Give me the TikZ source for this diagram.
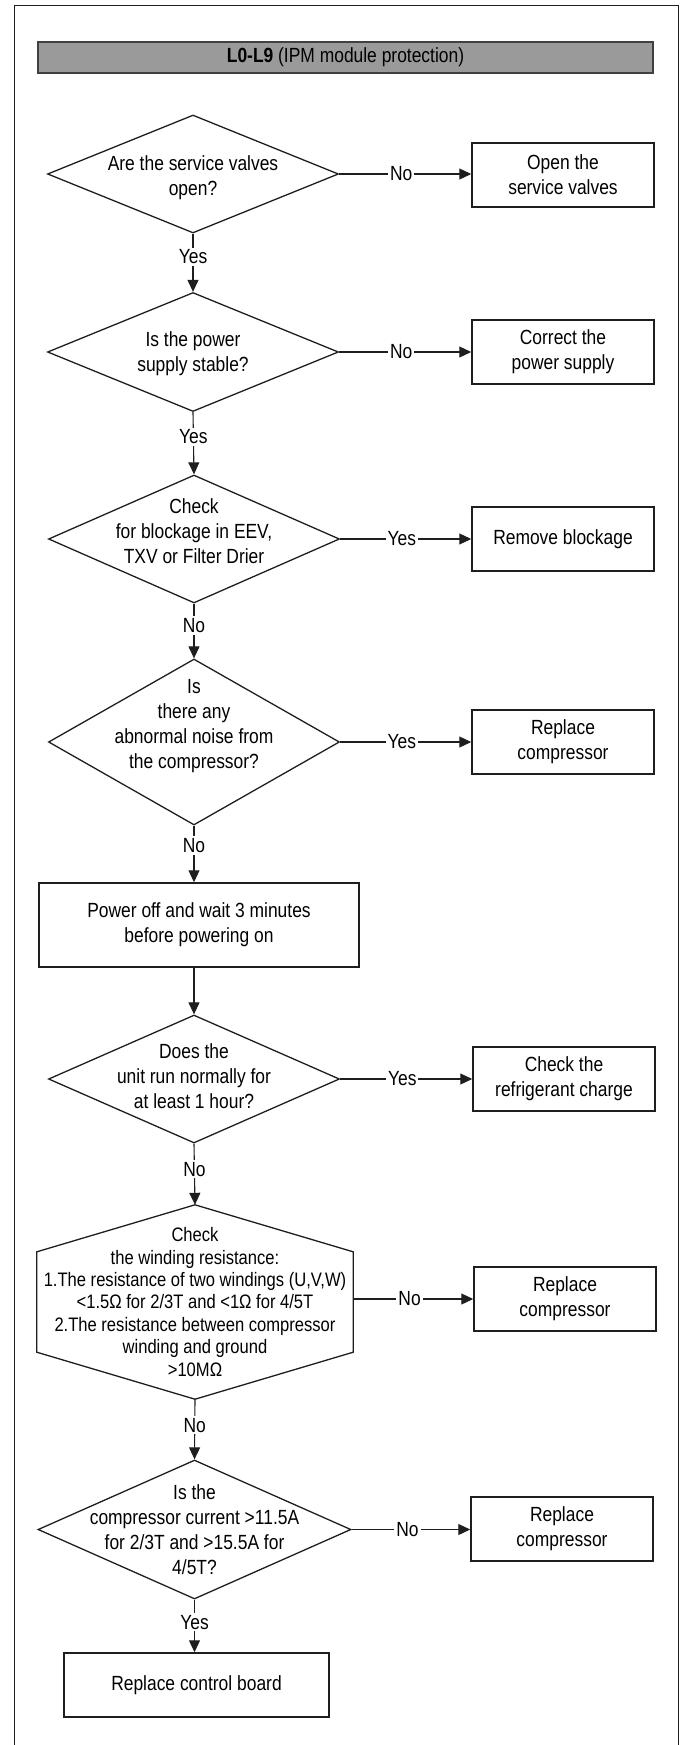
\documentclass[tikz,border=0pt]{standalone}
\usepackage{fontspec}
\setmainfont[FakeStretch=0.85]{Liberation Sans}
\usepackage{tikz}
\usetikzlibrary{arrows.meta,calc,shapes.geometric}
\definecolor{headgray}{RGB}{154,154,154}
\definecolor{edge}{RGB}{30,30,30}

\begin{document}
\begin{tikzpicture}[x=1pt,y=-1pt,
    every node/.style={font=\fontsize{20.5}{25}\selectfont},
    dia/.style={diamond,draw=edge,line width=1.3pt,inner sep=0pt,minimum width=291},
    txt/.style={align=center,inner sep=0pt},
    box/.style={draw=edge,line width=1.5pt,align=center,minimum width=182,minimum height=64},
    arr/.style={-{Triangle[length=12pt,width=11pt]},line width=1.1pt,draw=edge},
    lbl/.style={fill=white,inner sep=2pt}]
  \useasboundingbox (0,0) rectangle (681,1745);
  \draw[edge,line width=1pt] (14,1745) -- (14,6) -- (678,6) -- (678,1745);
  \node[draw=black!75,fill=headgray,line width=1.3pt,minimum width=615,minimum height=31,inner sep=0pt] (head) at (345.5,57.5) {\textbf{L0-L9} (IPM module protection)};

  \node[dia,minimum height=118] (valves) at (193,174) {};
  \node[txt] (valves-t) at (193,178) {Are the service valves\\open?};
  \node[box] (openv) at (563,175) {Open the\\service valves};

  \node[dia,minimum height=119] (power) at (193,352) {};
  \node[txt] (power-t) at (193,354) {Is the power\\supply stable?};
  \node[box] (supply) at (563,352) {Correct the\\power supply};

  \node[dia,minimum height=128] (block) at (194,539) {};
  \node[txt] (block-t) at (194,531) {Check\\for blockage in EEV,\\TXV or Filter Drier};
  \node[box] (remove) at (563,539) {Remove blockage};

  \node[dia,minimum height=166] (noise) at (194,742) {};
  \node[txt] (noise-t) at (194,726) {Is\\there any\\abnormal noise from\\the compressor?};
  \node[box] (comp1) at (563,742) {Replace\\compressor};

  \node[draw=edge,line width=1.5pt,align=center,minimum width=320,minimum height=84] (restart) at (199,925) {Power off and wait 3 minutes\\before powering on};

  \node[dia,minimum height=128] (run) at (194,1079) {};
  \node[txt] (run-t) at (194,1076) {Does the\\unit run normally for\\at least 1 hour?};
  \node[box] (charge) at (564,1079) {Check the\\refrigerant charge};

  \node[txt,minimum width=316,minimum height=194,font=\fontsize{19.5}{22.4}\selectfont] (wind) at (195,1302) {Check\\the winding resistance:\\1.The resistance of two windings (U,V,W)\\<1.5Ω for 2/3T and <1Ω for 4/5T\\2.The resistance between compressor\\winding and ground\\>10MΩ};
  \draw[edge,line width=1.3pt] (wind.north) -- ($(wind.north east)+(0,47)$) -- ($(wind.south east)+(0,-47)$) -- (wind.south) -- ($(wind.south west)+(0,-47)$) -- ($(wind.north west)+(0,47)$) -- cycle;
  \node[box] (comp2) at (565,1299) {Replace\\compressor};

  \node[dia,minimum width=313,minimum height=139] (current) at (194.5,1529.5) {};
  \node[txt] (current-t) at (194.5,1530) {Is the\\compressor current >11.5A\\for 2/3T and >15.5A for\\4/5T?};
  \node[box] (comp3) at (562,1529) {Replace\\compressor};

  \node[box,minimum width=265] (board) at (196.5,1685) {Replace control board};

  \draw[arr] (valves.east) -- node[lbl,pos=0.47]{No} (valves.east -| openv.west);
  \draw[arr] (valves.south) -- node[lbl,pos=0.4]{Yes} (power.north);
  \draw[arr] (power.east) -- node[lbl,pos=0.47]{No} (power.east -| supply.west);
  \draw[arr] (power.south) -- node[lbl,pos=0.4]{Yes} (block.north);
  \draw[arr] (block.east) -- node[lbl,pos=0.47]{Yes} (block.east -| remove.west);
  \draw[arr] (block.south) -- node[lbl,pos=0.4]{No} (noise.north);
  \draw[arr] (noise.east) -- node[lbl,pos=0.47]{Yes} (noise.east -| comp1.west);
  \draw[arr] (noise.south) -- node[lbl,pos=0.35]{No} (noise.south |- restart.north);
  \draw[arr] (run.north |- restart.south) -- (run.north);
  \draw[arr] (run.east) -- node[lbl,pos=0.47]{Yes} (run.east -| charge.west);
  \draw[arr] (run.south) -- node[lbl,pos=0.42]{No} (wind.north);
  \draw[arr] (comp2.west -| wind.east) -- node[lbl,pos=0.47]{No} (comp2.west);
  \draw[arr] (wind.south) -- node[lbl,pos=0.43]{No} (current.north);
  \draw[arr] (current.east) -- node[lbl,pos=0.47]{No} (current.east -| comp3.west);
  \draw[arr] (current.south) -- node[lbl,pos=0.43]{Yes} (current.south |- board.north);
\end{tikzpicture}
\end{document}
